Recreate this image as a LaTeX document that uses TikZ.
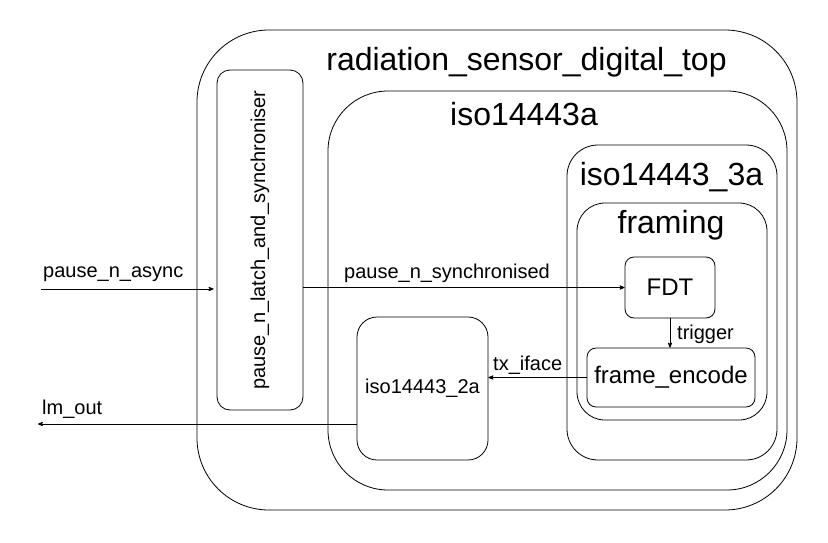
\documentclass[tikz,border=0pt]{standalone}
\usepackage{fontspec}
\setmainfont{Liberation Sans}
\usetikzlibrary{calc}
\usetikzlibrary{arrows}
\usetikzlibrary{positioning}

\tikzset{
  blk/.style={draw, rounded corners=#1, inner sep=0pt, line width=0.8pt},
  ttl/.style={anchor=base, inner sep=0pt, font=\fontsize{32}{38}\selectfont},
  sig/.style={line width=0.8pt, ->, >=stealth'},
  lbl/.style={anchor=base west, inner sep=0pt, font=\fontsize{20}{24}\selectfont}
}

\begin{document}
\begin{tikzpicture}[x=1pt, y=-1pt]
\useasboundingbox (0,0) rectangle (828,542);
% containers
\node[blk=72pt, minimum width=600pt, minimum height=480pt] (top) at (497,270) {};
\node[blk=13pt, minimum width=86pt, minimum height=340pt] (latch) at (260,240) {};
\node[rotate=90, inner sep=0pt, font=\fontsize{20}{24}\selectfont] (latchtxt) at (latch) {pause\_n\_latch\_and\_synchroniser};
\node[blk=60pt, minimum width=459pt, minimum height=399pt] (isoa) at (557.5,290.5) {};
\node[blk=31pt, minimum width=210pt, minimum height=315pt] (isothree) at (672,302.5) {};
\node[blk=28pt, minimum width=190pt, minimum height=217pt] (framing) at (672,311.5) {};
% titles
\node[ttl] (toptxt) at (526.5,70) {radiation\_sensor\_digital\_top};
\node[ttl] (isoatxt) at (524,125) {iso14443a};
\node[ttl] (isothreetxt) at (671.5,185) {iso14443\_3a};
\node[ttl] (framingtxt) at (671,233) {framing};
% blocks
\node[blk=9pt, minimum width=90pt, minimum height=61pt, font=\fontsize{24}{28}\selectfont] (fdt) at (670,287.5) {FDT};
\node[blk=9pt, minimum width=168pt, minimum height=59pt, font=\fontsize{24}{28}\selectfont] (enc) at (671,377.5) {frame\_encode};
\node[blk=20pt, minimum width=131pt, minimum height=143pt, font=\fontsize{20}{24}\selectfont] (isotwo) at (422.5,388.5) {iso14443\_2a};
% signals
\coordinate (asyncin) at (41,289);
\coordinate (lmout) at (38,424);
\draw[sig] (asyncin) -- ($(asyncin -| latch.west)+(-3,0)$);
\draw[sig] (latch.east |- fdt.west) -- (fdt.west);
\draw[sig] (fdt.south) -- (fdt.south |- enc.north);
\draw[sig] (enc.west) -- (enc.west -| isotwo.east);
\draw[sig] (isotwo.west |- lmout) -- (lmout);
\node[lbl] (asynctxt) at (43,277) {pause\_n\_async};
\node[lbl, anchor=base] (synctxt) at (447,278) {pause\_n\_synchronised};
\node[lbl] (trigtxt) at (677,339) {trigger};
\node[lbl] (txtxt) at (493,370) {tx\_iface};
\node[lbl] (lmtxt) at (42,414) {lm\_out};
\end{tikzpicture}
\end{document}
